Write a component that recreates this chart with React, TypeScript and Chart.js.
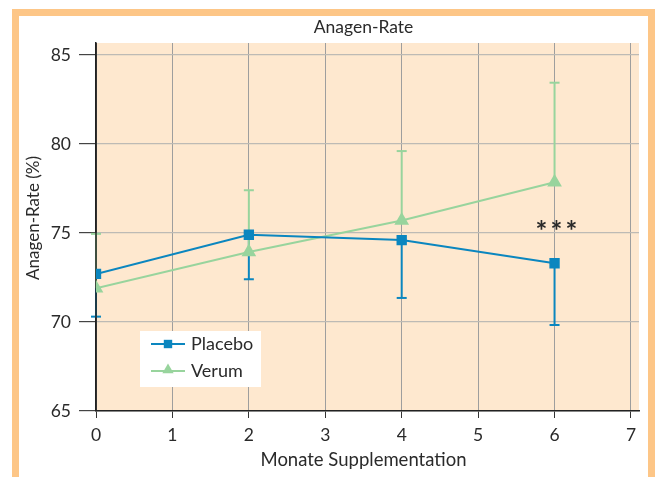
import React, { useEffect, useRef } from 'react';
import { Chart, registerables } from 'chart.js';

Chart.register(...registerables);

// ---- data ----
const months = [0, 2, 4, 6];
const placeboMean = [72.7, 74.9, 74.6, 73.3];
const placeboLower = [70.3, 72.4, 71.35, 69.83];
const verumMean = [71.9, 73.93, 75.7, 77.85];
const verumUpper = [74.95, 77.4, 79.6, 83.44];
const xTickValues = [0, 1, 2, 3, 4, 5, 6, 7];
const yTickValues = [65, 70, 75, 80, 85];
const chartTitle = 'Anagen-Rate';
const xAxisTitle = 'Monate Supplementation';
const yAxisTitle = 'Anagen-Rate (%)';
const significanceMarks = ['*', '*', '*'];
const significanceAt = 6;
const seriesNames = ['Placebo', 'Verum'];

// ---- style ----
const BLUE = '#0B86BF';
const GREEN = '#98D49D';
const PLOT_BG = '#FEE8CF';
const FRAME = '#FDC687';
const TEXT = '#2a2a2a';
const FONT = 'Lato, "Open Sans", sans-serif';

const decorPlugin = {
  id: 'decor',
  beforeDraw(chart: any) {
    const { ctx, chartArea: a } = chart;
    ctx.save();
    ctx.fillStyle = PLOT_BG;
    ctx.fillRect(a.left, a.top, a.right - a.left, a.bottom - a.top);
    ctx.restore();
  },
  beforeDatasetsDraw(chart: any) {
    const { ctx, chartArea: a, scales } = chart;
    const xs = scales.x;
    const ys = scales.y;
    const drawBars = (means: number[], ends: number[], color: string) => {
      ctx.save();
      ctx.strokeStyle = color;
      ctx.lineWidth = 2;
      means.forEach((m, i) => {
        const px = xs.getPixelForValue(months[i]);
        const p1 = ys.getPixelForValue(m);
        const p2 = ys.getPixelForValue(ends[i]);
        ctx.beginPath();
        ctx.moveTo(px, p1);
        ctx.lineTo(px, p2);
        ctx.stroke();
        ctx.beginPath();
        ctx.moveTo(px - 5, p2);
        ctx.lineTo(px + 5, p2);
        ctx.stroke();
      });
      ctx.restore();
    };
    drawBars(placeboMean, placeboLower, BLUE);
    drawBars(verumMean, verumUpper, GREEN);
    // re-draw the y axis line over the bars
    ctx.save();
    ctx.strokeStyle = '#222';
    ctx.lineWidth = 1.5;
    ctx.beginPath();
    ctx.moveTo(a.left, a.top);
    ctx.lineTo(a.left, a.bottom);
    ctx.stroke();
    ctx.restore();
  },
  afterDraw(chart: any) {
    const { ctx, scales } = chart;
    const xs = scales.x;
    ctx.save();
    ctx.fillStyle = TEXT;
    ctx.textAlign = 'center';
    ctx.textBaseline = 'middle';
    const cx = (xs.getPixelForValue(0) + xs.getPixelForValue(7)) / 2;
    ctx.font = `17.5px ${FONT}`;
    ctx.fillText(chartTitle, cx, 27);
    ctx.font = `18.5px ${FONT}`;
    ctx.fillText(xAxisTitle, cx, 460);
    ctx.font = `17px ${FONT}`;
    ctx.save();
    ctx.translate(34, 218);
    ctx.rotate(-Math.PI / 2);
    ctx.fillText(yAxisTitle, 0, 0);
    ctx.restore();

    // significance marker
    ctx.font = `bold 28px ${FONT}`;
    ctx.textBaseline = 'alphabetic';
    const sx = xs.getPixelForValue(significanceAt) + 2;
    significanceMarks.forEach((m, i) => {
      ctx.fillText(m, sx + (i - 1) * 15, 241);
    });

    // legend
    const lx = 140, ly = 331, lw = 121, lh = 56;
    ctx.textBaseline = 'middle';
    ctx.fillStyle = '#ffffff';
    ctx.fillRect(lx, ly, lw, lh);
    const ds = chart.data.datasets;
    const rows = [344, 371];
    ds.forEach((d: any, i: number) => {
      const y = rows[i];
      ctx.strokeStyle = d.borderColor;
      ctx.lineWidth = 2;
      ctx.beginPath();
      ctx.moveTo(151, y);
      ctx.lineTo(185, y);
      ctx.stroke();
      ctx.fillStyle = d.borderColor;
      if (d.pointStyle === 'rect') {
        ctx.fillRect(168 - 4.2, y - 4.2, 8.4, 8.4);
      } else {
        const r = 6.5;
        const cy = y - 1;
        ctx.beginPath();
        ctx.moveTo(168, cy - r);
        ctx.lineTo(168 + r * 0.866, cy + r / 2);
        ctx.lineTo(168 - r * 0.866, cy + r / 2);
        ctx.closePath();
        ctx.fill();
      }
      ctx.fillStyle = TEXT;
      ctx.textAlign = 'left';
      ctx.font = `18px ${FONT}`;
      ctx.fillText(d.label, 191, y);
    });
    ctx.restore();
  },
};

export default function App() {
  const ref = useRef<HTMLCanvasElement | null>(null);

  useEffect(() => {
    if (!ref.current) return;
    const chart = new Chart(ref.current, {
      type: 'line',
      data: {
        datasets: [
          {
            label: seriesNames[0],
            data: months.map((m, i) => ({ x: m, y: placeboMean[i] })),
            borderColor: BLUE,
            backgroundColor: BLUE,
            borderWidth: 2,
            pointStyle: 'rect',
            pointRadius: 5.9,
            pointHoverRadius: 5.9,
            tension: 0,
          },
          {
            label: seriesNames[1],
            data: months.map((m, i) => ({ x: m, y: verumMean[i] })),
            borderColor: GREEN,
            backgroundColor: GREEN,
            borderWidth: 2,
            pointStyle: 'triangle',
            pointRadius: 6.5,
            pointHoverRadius: 6.5,
            tension: 0,
          },
        ],
      },
      options: {
        responsive: false,
        animation: false,
        devicePixelRatio: 1,
        layout: { padding: { top: 43, right: 16, left: 0, bottom: 0 } },
        plugins: {
          legend: { display: false },
          title: { display: false },
          tooltip: { enabled: false },
        },
        scales: {
          x: {
            type: 'linear',
            min: xTickValues[0],
            max: 7.105,
            afterFit: (s: any) => {
              s.height = 66;
            },
            afterBuildTicks: (s: any) => {
              s.ticks = xTickValues.map((v) => ({ value: v }));
            },
            ticks: {
              font: { family: FONT, size: 17.5 },
              color: TEXT,
              padding: 7,
              maxRotation: 0,
            },
            grid: {
              color: '#9e9e9e',
              lineWidth: 1,
              tickLength: 7,
              tickColor: '#333',
            },
            border: { display: true, color: '#222', width: 1.5 },
          },
          y: {
            type: 'linear',
            min: yTickValues[0],
            max: 85.67,
            afterFit: (s: any) => {
              s.width = 96;
            },
            afterBuildTicks: (s: any) => {
              s.ticks = yTickValues.map((v) => ({ value: v }));
            },
            ticks: {
              font: { family: FONT, size: 17.5 },
              color: TEXT,
              padding: 8,
            },
            grid: {
              color: '#bdbab5',
              lineWidth: 1.2,
              tickLength: 17,
              tickColor: '#444',
            },
            border: { display: true, color: '#222', width: 1.5 },
          },
        },
      },
      plugins: [decorPlugin],
    } as any);
    return () => chart.destroy();
  }, []);

  return (
    <div
      style={{
        position: 'fixed',
        left: 0,
        top: 0,
        width: 655,
        height: 477,
        background: '#ffffff',
        overflow: 'hidden',
      }}
    >
      <div
        style={{
          position: 'absolute',
          left: 12,
          top: 9,
          width: 643,
          height: 520,
          boxSizing: 'border-box',
          border: `7px solid ${FRAME}`,
          background: '#ffffff',
        }}
      />
      <canvas
        ref={ref}
        width={655}
        height={477}
        style={{ position: 'absolute', left: 0, top: 0, width: 655, height: 477 }}
      />
    </div>
  );
}
